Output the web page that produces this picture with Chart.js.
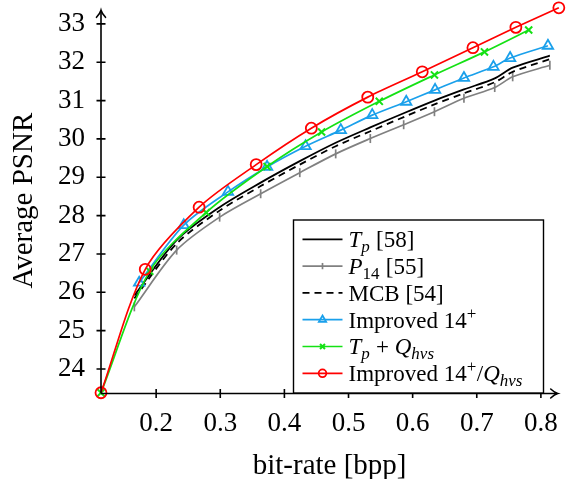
<!DOCTYPE html>
<html>
<head>
<meta charset="utf-8">
<script src="https://cdn.jsdelivr.net/npm/chart.js@4/dist/chart.umd.min.js"></script>
<style>
  html, body { margin: 0; padding: 0; background: #fff; }
  canvas { display: block; }
</style>
</head>
<body>
<canvas id="rd" width="566" height="479"></canvas>
<script>
// Rate-distortion results: bit-rate (bpp) against average PSNR (dB)
const rateTp    = [0.166, 0.232, 0.299, 0.363, 0.424, 0.480, 0.534, 0.586, 0.634, 0.680, 0.728, 0.756, 0.814];
const psnrTp    = [25.92, 27.36, 28.22, 28.86, 29.42, 29.90, 30.30, 30.67, 31.00, 31.29, 31.58, 31.86, 32.17];

const rateP14   = [0.166, 0.232, 0.299, 0.363, 0.424, 0.480, 0.534, 0.586, 0.634, 0.680, 0.728, 0.756, 0.814];
const psnrP14   = [25.62, 27.10, 27.96, 28.57, 29.12, 29.61, 30.01, 30.37, 30.71, 31.06, 31.34, 31.62, 31.92];

const rateMCB   = [0.166, 0.232, 0.299, 0.363, 0.424, 0.480, 0.534, 0.586, 0.634, 0.680, 0.728, 0.756, 0.814];
const psnrMCB   = [25.84, 27.27, 28.13, 28.77, 29.33, 29.81, 30.20, 30.57, 30.90, 31.19, 31.48, 31.75, 32.08];

const rateImp14 = [0.1735, 0.243, 0.312, 0.373, 0.433, 0.488, 0.537, 0.590, 0.635, 0.680, 0.726, 0.752, 0.811];
const psnrImp14 = [26.25, 27.75, 28.62, 29.27, 29.81, 30.23, 30.62, 30.97, 31.28, 31.59, 31.88, 32.11, 32.43];

const rateTpQ   = [0.114, 0.190, 0.278, 0.373, 0.458, 0.548, 0.634, 0.712, 0.781];
const psnrTpQ   = [23.38, 26.55, 28.08, 29.28, 30.18, 30.98, 31.67, 32.27, 32.84];

const rateImpQ  = [0.114, 0.183, 0.267, 0.356, 0.442, 0.530, 0.615, 0.694, 0.761, 0.828];
const psnrImpQ  = [23.38, 26.60, 28.22, 29.33, 30.28, 31.09, 31.75, 32.38, 32.91, 33.42];

// Series names ($...$ = math: italic letters, _ subscript, ^ superscript)
const seriesNames = [
  '$T_p$ [58]',
  '$P_{14}$ [55]',
  'MCB [54]',
  'Improved 14$^+$',
  '$T_p + Q_{hvs}$',
  'Improved 14$^+/Q_{hvs}$'
];

const rateTicks = [0.2, 0.3, 0.4, 0.5, 0.6, 0.7, 0.8];
const psnrTicks = [24, 25, 26, 27, 28, 29, 30, 31, 32, 33];
const rateLimits = [0.114, 0.827];
const psnrLimits = [23.36, 33.42];

const axisTitleX = 'bit-rate [bpp]';
const axisTitleY = 'Average PSNR';

const SERIF = "'Liberation Serif', 'Times New Roman', serif";

function points(xs, ys) {
  return xs.map((x, i) => ({ x: x, y: ys[i] }));
}

const datasets = [
  { label: seriesNames[0], data: points(rateTp, psnrTp), borderColor: '#000', borderWidth: 1.8,
    pointRadius: 0, order: 6 },
  { label: seriesNames[1], data: points(rateP14, psnrP14), borderColor: 'rgb(128,128,128)', borderWidth: 1.7,
    pointStyle: 'line', pointRotation: 90, pointRadius: 4.5, pointBorderWidth: 1.7, order: 5 },
  { label: seriesNames[2], data: points(rateMCB, psnrMCB), borderColor: '#000', borderWidth: 1.8,
    borderDash: [7, 5], pointRadius: 0, order: 4 },
  { label: seriesNames[3], data: points(rateImp14, psnrImp14), borderColor: 'rgb(26,160,235)', borderWidth: 1.7,
    pointStyle: 'triangle', pointRadius: 6, pointBorderWidth: 1.8, order: 3 },
  { label: seriesNames[4], data: points(rateTpQ, psnrTpQ), borderColor: 'rgb(20,225,20)', borderWidth: 1.7,
    pointStyle: 'crossRot', pointRadius: 5, pointBorderWidth: 2, order: 2 },
  { label: seriesNames[5], data: points(rateImpQ, psnrImpQ), borderColor: 'rgb(255,0,0)', borderWidth: 1.7,
    pointStyle: 'circle', pointRadius: 5.5, pointBorderWidth: 1.8, order: 1 }
];
datasets.forEach(d => {
  d.backgroundColor = 'rgba(0,0,0,0)';
  d.pointBackgroundColor = 'rgba(0,0,0,0)';
  d.pointBorderColor = d.borderColor;
  d.pointHoverRadius = d.pointRadius;
  d.fill = false;
  d.tension = 0.3;
  d.clip = false;
});

// Split a label with $...$ math into styled runs
function parseRich(str) {
  const out = [];
  let math = false;
  let i = 0;
  const push = (t, it, role) => {
    const last = out[out.length - 1];
    if (last && last.it === it && last.role === role) last.t += t;
    else out.push({ t: t, it: it, role: role });
  };
  while (i < str.length) {
    const c = str[i];
    if (c === '$') { math = !math; i++; continue; }
    if (math && (c === '_' || c === '^')) {
      const role = c === '_' ? 'sub' : 'sup';
      i++;
      let grp;
      if (str[i] === '{') { const j = str.indexOf('}', i); grp = str.slice(i + 1, j); i = j + 1; }
      else { grp = str[i]; i++; }
      for (const g of grp) push(g, /[A-Za-z]/.test(g), role);
      continue;
    }
    push(c, math && /[A-Za-z]/.test(c), 'base');
    i++;
  }
  return out;
}

function drawRich(ctx, str, x, y, size) {
  const subSize = Math.round(size * 0.72);
  for (const run of parseRich(str)) {
    const sz = run.role === 'base' ? size : subSize;
    const dy = run.role === 'sub' ? size * 0.2 : run.role === 'sup' ? -size * 0.38 : 0;
    ctx.font = (run.it ? 'italic ' : '') + sz + 'px ' + SERIF;
    ctx.fillText(run.t, x, y + dy);
    x += ctx.measureText(run.t).width + (run.role === 'base' ? 0 : 0.5);
  }
}

function arrowHead(ctx, tx, ty, dir) {
  // dir: 'right' or 'up' — curved two-barb tip
  ctx.beginPath();
  if (dir === 'right') {
    ctx.moveTo(tx - 7, ty - 4.5);
    ctx.quadraticCurveTo(tx - 3, ty - 0.8, tx, ty);
    ctx.quadraticCurveTo(tx - 3, ty + 0.8, tx - 7, ty + 4.5);
  } else {
    ctx.moveTo(tx - 4.5, ty + 7);
    ctx.quadraticCurveTo(tx - 0.8, ty + 3, tx, ty);
    ctx.quadraticCurveTo(tx + 0.8, ty + 3, tx + 4.5, ty + 7);
  }
  ctx.stroke();
}

const axisDecor = {
  id: 'axisDecor',
  afterDatasetsDraw(chart) {
    const { ctx, chartArea: a, scales: { x, y } } = chart;
    ctx.save();
    ctx.strokeStyle = '#000';
    ctx.lineWidth = 1.6;
    ctx.lineCap = 'butt';
    const ox = a.left, oy = a.bottom;
    ctx.beginPath();
    ctx.moveTo(ox, oy); ctx.lineTo(a.right - 1, oy);
    ctx.moveTo(ox, oy); ctx.lineTo(ox, a.top + 3);
    ctx.stroke();
    ctx.beginPath();
    rateTicks.forEach(v => {
      const px = x.getPixelForValue(v);
      ctx.moveTo(px, oy - 4.5); ctx.lineTo(px, oy + 4.5);
    });
    psnrTicks.forEach(v => {
      const py = y.getPixelForValue(v);
      ctx.moveTo(ox - 4.5, py); ctx.lineTo(ox + 4.5, py);
    });
    ctx.stroke();
    ctx.lineCap = 'round';
    arrowHead(ctx, a.right - 0.5, oy, 'right');
    arrowHead(ctx, ox, a.top + 2.5, 'up');
    ctx.restore();
  }
};

const legendAndTitles = {
  id: 'legendAndTitles',
  afterDraw(chart) {
    const { ctx, chartArea: a } = chart;
    ctx.save();
    ctx.fillStyle = '#000';
    ctx.textBaseline = 'alphabetic';

    // axis titles
    ctx.font = '29px ' + SERIF;
    ctx.textAlign = 'center';
    ctx.fillText(axisTitleX, (a.left + a.right) / 2, 474);
    ctx.save();
    ctx.translate(31.5, (a.top + a.bottom) / 2);
    ctx.rotate(-Math.PI / 2);
    ctx.fillText(axisTitleY, 0, 0);
    ctx.restore();

    // legend box
    const box = { l: 293.5, t: 220, r: 543.5, b: 393 };
    ctx.fillStyle = '#fff';
    ctx.fillRect(box.l, box.t, box.r - box.l, box.b - box.t);
    ctx.strokeStyle = '#000';
    ctx.lineWidth = 1.4;
    ctx.strokeRect(box.l, box.t, box.r - box.l, box.b - box.t);

    const rowH = 26.8;
    const firstRow = 239.3;
    ctx.textAlign = 'left';
    datasets.forEach((d, i) => {
      const cy = firstRow + i * rowH;
      ctx.save();
      ctx.strokeStyle = d.borderColor;
      ctx.lineWidth = d.borderWidth;
      ctx.setLineDash(d.borderDash || []);
      ctx.beginPath();
      ctx.moveTo(302.5, cy); ctx.lineTo(342.5, cy);
      ctx.stroke();
      ctx.setLineDash([]);
      if (d.pointRadius > 0) {
        ctx.fillStyle = 'rgba(0,0,0,0)';
        ctx.lineWidth = d.pointBorderWidth;
        Chart.helpers.drawPoint(ctx, {
          pointStyle: d.pointStyle, rotation: d.pointRotation || 0,
          radius: d.pointRadius * 0.7, borderWidth: d.pointBorderWidth
        }, 322.5, cy);
      }
      ctx.restore();
      ctx.fillStyle = '#000';
      drawRich(ctx, d.label, 348.5, cy + 7.8, 23);
    });
    ctx.restore();
  }
};

new Chart(document.getElementById('rd'), {
  type: 'line',
  data: { datasets: datasets },
  options: {
    responsive: false,
    animation: false,
    devicePixelRatio: 1,
    layout: { padding: { top: 5.5, right: 0, bottom: 0, left: 0 } },
    plugins: { legend: { display: false }, tooltip: { enabled: false } },
    events: [],
    scales: {
      x: {
        type: 'linear',
        min: rateLimits[0], max: rateLimits[1],
        grid: { display: false, drawTicks: false },
        border: { display: false },
        ticks: {
          autoSkip: false, padding: 14, color: '#000',
          font: { family: SERIF, size: 27 },
          callback: v => v.toFixed(1)
        },
        afterBuildTicks: s => { s.ticks = rateTicks.map(v => ({ value: v })); },
        afterFit: s => { s.height = 85.5; s.paddingLeft = 0; s.paddingRight = 0; }
      },
      y: {
        type: 'linear',
        min: psnrLimits[0], max: psnrLimits[1],
        grid: { display: false, drawTicks: false },
        border: { display: false },
        ticks: {
          autoSkip: false, padding: 16, color: '#000',
          font: { family: SERIF, size: 27 },
          callback: v => String(v)
        },
        afterBuildTicks: s => { s.ticks = psnrTicks.map(v => ({ value: v })); },
        afterFit: s => { s.width = 101; s.paddingTop = 0; s.paddingBottom = 0; }
      }
    }
  },
  plugins: [axisDecor, legendAndTitles]
});
</script>
</body>
</html>
